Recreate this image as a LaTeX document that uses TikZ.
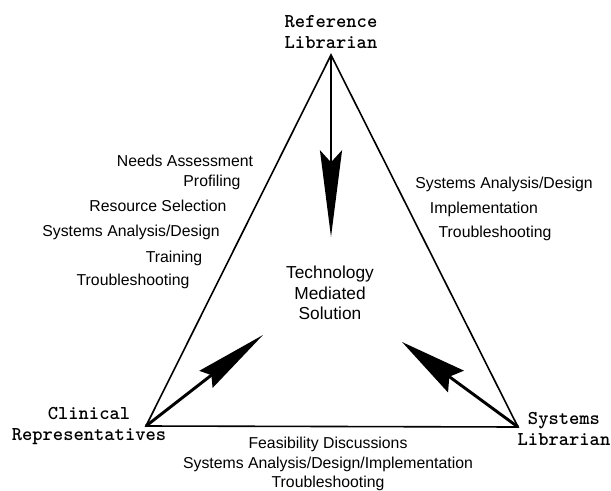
\documentclass[tikz,border=0pt]{standalone}
\usepackage{fontspec}
\setmainfont{Liberation Sans}
\usepackage{tikz}
\usetikzlibrary{arrows.meta, positioning}

\begin{document}
\begin{tikzpicture}[x=0.75pt, y=-0.75pt,
  side/.style={line width=1.2pt, line join=miter},
  task/.style={font=\fontsize{11.85}{14.6}\selectfont, inner sep=0pt},
  role/.style={font=\ttfamily\fontsize{14.7}{15.75}\selectfont\bfseries, align=center, inner sep=0pt},
  push/.style={line width=2.2pt}]
\useasboundingbox (0,0) rectangle (611,490);
\coordinate (top) at (331,55);
\coordinate (left) at (146,426);
\coordinate (right) at (518,427);
\coordinate (toptip) at (331,237);
\coordinate (lefttip) at (263,335);
\coordinate (righttip) at (402,342);
\node[role] at (331,32) (reflib) {Reference\\Librarian};
\node[role] at (89,426) (clinrep) {Clinical\\Representatives};
\node[role] at (564,429) (syslib) {Systems\\Librarian};
\node[task, align=center, font=\fontsize{13}{15.4}\selectfont] at (330,293) (tms) {Technology\\Mediated\\Solution};
% left side
\node[task] at (185,161) (needs) {Needs Assessment};
\node[task] at (212,182) (prof) {Profiling};
\node[task] at (158,206) (res) {Resource Selection};
\node[task] at (131,232) (sadl) {Systems Analysis/Design};
\node[task] at (174,258) (train) {Training};
\node[task] at (133,281) (troubl) {Troubleshooting};
% right side
\node[task] at (504,184) (sadr) {Systems Analysis/Design};
\node[task] at (484,209) (impl) {Implementation};
\node[task] at (495,233) (troubr) {Troubleshooting};
% base
\node[task, align=center] at (328,464) (feas) {Feasibility Discussions\\Systems Analysis/Design/Implementation\\Troubleshooting};
\draw[side] (top) -- (left) -- (right) -- cycle;
\draw[push, -{Stealth[length=65pt, width=16.5pt, inset=9pt]}] (top) -- (toptip);
\draw[push, -{Stealth[length=54pt, width=16pt, inset=5pt]}] (left) -- (lefttip);
\draw[push, -{Stealth[length=50pt, width=20pt, inset=6pt]}] (right) -- (righttip);
\end{tikzpicture}
\end{document}
